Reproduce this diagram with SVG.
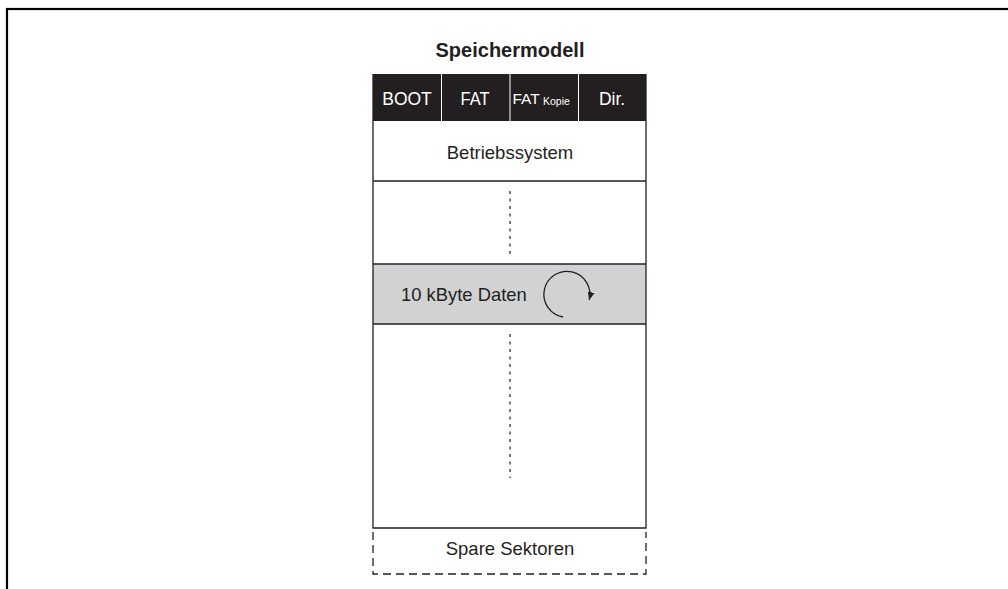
<svg xmlns="http://www.w3.org/2000/svg" width="1008" height="589" viewBox="0 0 1008 589">
<style>
text{font-family:"Liberation Sans",Arial,sans-serif;fill:#231f20}
.w{fill:#fff}
.ln{stroke:#231f20;stroke-width:1.3;fill:none}
.dash{stroke:#231f20;stroke-width:1.3;fill:none;stroke-dasharray:8 5}
.fine{stroke:#231f20;stroke-width:1.2;fill:none;stroke-dasharray:3 4.5}
</style>
<defs>
<marker id="ah" markerWidth="9" markerHeight="8" refX="8" refY="4" orient="auto" markerUnits="userSpaceOnUse">
<path d="M0,0.5 L8,4 L0,7.5 Z" fill="#231f20"/>
</marker>
</defs>
<rect x="0" y="0" width="1008" height="589" fill="#fff"/>
<rect x="7" y="9" width="1020" height="620" fill="none" stroke="#000" stroke-width="2.2"/>
<text x="510" y="57" text-anchor="middle" font-size="20" font-weight="bold">Speichermodell</text>
<g id="header">
<rect x="373" y="74" width="273" height="47" fill="#231f20"/>
<line x1="441.5" y1="74" x2="441.5" y2="121" stroke="#fff" stroke-width="1"/>
<line x1="510" y1="74" x2="510" y2="121" stroke="#fff" stroke-width="1"/>
<line x1="578.5" y1="74" x2="578.5" y2="121" stroke="#fff" stroke-width="1"/>
<text class="w" x="407" y="105" text-anchor="middle" font-size="17.5">BOOT</text>
<text class="w" x="475" y="105" text-anchor="middle" font-size="17.5" textLength="29" lengthAdjust="spacingAndGlyphs">FAT</text>
<text class="w" x="512.5" y="104" font-size="15.5">FAT<tspan x="543" y="105" font-size="10.5">Kopie</tspan></text>
<text class="w" x="612" y="105" text-anchor="middle" font-size="17.5">Dir.</text>
</g>
<g id="betriebssystem">
<rect x="373" y="121" width="273" height="60" fill="#fff"/>
<text x="510" y="159" text-anchor="middle" font-size="18.5">Betriebssystem</text>
</g>
<g id="daten">
<rect x="373" y="264" width="273" height="60" fill="#d1d2d4"/>
<text x="401" y="301" font-size="18.4">10 kByte Daten</text>
<path class="ln" d="M563,317 A23,23 0 1 1 589.2,300" marker-end="url(#ah)"/>
</g>
<g id="frame">
<path class="ln" d="M373,74 V528 H646 V74"/>
<line class="ln" x1="373" y1="181" x2="646" y2="181"/>
<line class="ln" x1="373" y1="264" x2="646" y2="264"/>
<line class="ln" x1="373" y1="324" x2="646" y2="324"/>
</g>
<g id="spare">
<path class="dash" d="M373,532 V574 H646 V532"/>
<text x="510" y="555" text-anchor="middle" font-size="18.5">Spare Sektoren</text>
</g>
<g id="connectors">
<line class="fine" x1="510" y1="191" x2="510" y2="256"/>
<line class="fine" x1="510" y1="334" x2="510" y2="478"/>
</g>
</svg>
